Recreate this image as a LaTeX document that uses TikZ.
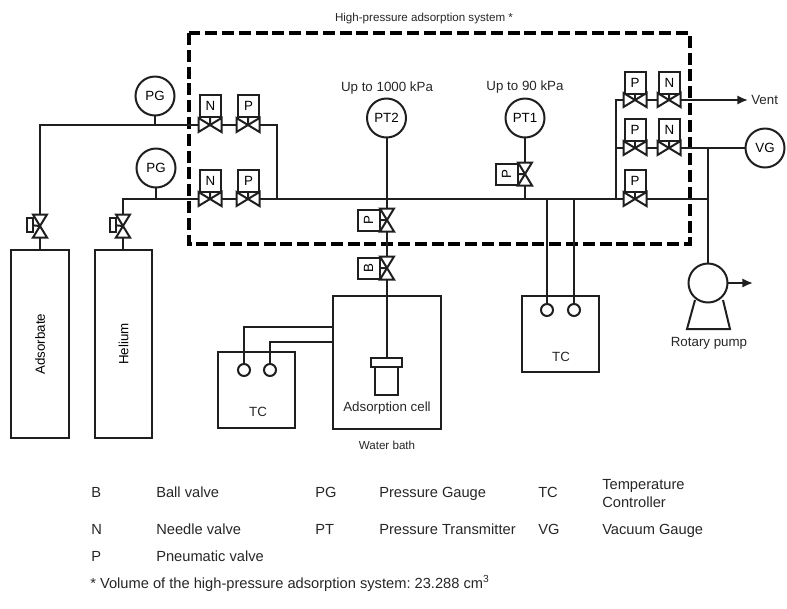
\documentclass[tikz,border=0pt]{standalone}
\usepackage{fontspec}
\setmainfont{Liberation Sans}
\usetikzlibrary{calc,arrows.meta}
\frenchspacing
\tikzset{
  pipe/.style={line width=1.5pt,line join=miter,draw=black!88},
  gauge/.style={circle,draw=black!88,line width=1.5pt,minimum size=29.25pt,inner sep=0pt,outer sep=0pt,font=\fontsize{10}{12}\selectfont},
  tag/.style={rectangle,draw=black!88,line width=1.5pt,fill=white,minimum width=15.75pt,minimum height=16.5pt,inner sep=0pt,outer sep=0pt,font=\fontsize{10}{12}\selectfont},
  grip/.style={tag,minimum width=4.5pt,minimum height=10.5pt},
  vessel/.style={rectangle,draw=black!88,line width=1.5pt,inner sep=0pt,outer sep=0pt,font=\fontsize{10}{12}\selectfont},
  port/.style={circle,draw=black!88,line width=1.5pt,fill=white,minimum size=9pt,inner sep=0pt,outer sep=0pt},
  lab/.style={inner sep=0pt,font=\fontsize{10}{12}\selectfont,text=black!85},
  smalllab/.style={lab,font=\fontsize{8.7}{10}\selectfont},
  leg/.style={lab,anchor=base west,font=\fontsize{11}{12}\selectfont},
  valve/.style={draw=black!88,line width=1.5pt,fill=white,line join=miter},
  tip/.style={-{Latex[length=8pt,width=7pt]}},
}
\newcommand{\hvalve}[3]{\coordinate (#1) at (#2,#3);}
\newcommand{\drawh}[1]{\draw[valve] (#1) ++(-11.5,-7) -- ++(23,14) -- ++(0,-14) -- ++(-23,14) -- cycle;}
\newcommand{\drawv}[1]{\draw[valve] (#1) ++(-7,-11.5) -- ++(14,0) -- ++(-14,23) -- ++(14,0) -- cycle;}
\begin{document}
\begin{tikzpicture}[x=0.75pt,y=-0.75pt]
\useasboundingbox (0,0) rectangle (787,608);
% system boundary
\draw[line width=3pt,dash pattern=on 9pt off 3.6pt,draw=black] (188.5,33) rectangle (689.5,243.5);
\node[smalllab] (title) at (424,18) {High-pressure adsorption system *};
% gauges
\node[gauge] (pgA) at (155,96) {PG};
\node[gauge] (pgB) at (156,168) {PG};
\node[gauge] (pt2) at (386.5,118) {PT2};
\node[gauge] (pt1) at (525,118) {PT1};
\node[gauge] (vg) at (765,148) {VG};
\node[gauge] (pump) at (708,283) {};
\node[lab] (lab2) at (387,88) {Up to 1000 kPa};
\node[lab] (lab1) at (525,87) {Up to 90 kPa};
% valve positions
\hvalve{nA}{210}{125}\hvalve{pA}{248}{125}
\hvalve{nB}{210}{199}\hvalve{pB}{248}{199}
\hvalve{pC}{635}{100}\hvalve{nC}{669}{100}
\hvalve{pD}{635}{148}\hvalve{nD}{669}{148}
\hvalve{pE}{635}{199}
\hvalve{vP2}{387}{220}\hvalve{vB}{387}{268}\hvalve{vP1}{525}{174}
\hvalve{vAd}{40}{226}\hvalve{vHe}{123}{226}
% tags
\node[tag] (tnA) at (210.5,106) {N};
\node[tag] (tpA) at (248.5,106) {P};
\node[tag] (tnB) at (210.5,180.5) {N};
\node[tag] (tpB) at (248.5,180.5) {P};
\node[tag] (tpC) at (635,82.5) {P};
\node[tag] (tnC) at (669.5,82.5) {N};
\node[tag] (tpD) at (635,130) {P};
\node[tag] (tnD) at (669.5,130) {N};
\node[tag] (tpE) at (635,181) {P};
\node[tag,rotate=90] (tP2) at (368.5,220.5) {P};
\node[tag,rotate=90] (tB) at (368.5,268.5) {B};
\node[tag,rotate=90] (tP1) at (506.5,174.5) {P};
\node[grip] (hAd) at (29.5,225) {};
\node[grip] (hHe) at (112.5,225) {};
% vessels
\node[vessel,rotate=90,minimum width=141pt,minimum height=43.5pt] (ads) at (40,344) {Adsorbate};
\node[vessel,rotate=90,minimum width=141pt,minimum height=43pt] (hel) at (123.5,344) {Helium};
\node[vessel,minimum width=81pt,minimum height=99.75pt] (bath) at (387,362.5) {};
\node[vessel,minimum width=57.75pt,minimum height=57pt] (tcL) at (256.5,390) {};
\node[vessel,minimum width=57.75pt,minimum height=57pt] (tcR) at (560.5,334) {};
\node[lab] (tcLt) at (258,412) {TC};
\node[lab] (tcRt) at (561,357) {TC};
\node[port] (cL1) at (244,370) {};
\node[port] (cL2) at (270,370) {};
\node[port] (cR1) at (547,310) {};
\node[port] (cR2) at (574,310) {};
\node[vessel,minimum width=23.25pt,minimum height=6.75pt] (cap) at (386.5,362.5) {};
\node[vessel,minimum width=17.25pt,minimum height=21pt] (cell) at (386.5,381) {};
\node[lab] (cellt) at (387,408) {Adsorption cell};
\node[smalllab] (batht) at (387,445) {Water bath};
\node[lab] (pumpt) at (709,343) {Rotary pump};
% junctions
\coordinate (jAl) at (40,125);
\coordinate (jBl) at (123,199);
\coordinate (jU) at (277,125);
\coordinate (jL) at (277,199);
\coordinate (jRt) at (616,100);
\coordinate (jRm) at (616,148);
\coordinate (jRb) at (616,199);
\coordinate (jPm) at (708,148);
\coordinate (jPb) at (708,199);
\coordinate (vent) at (748,100);
\coordinate (ventpump) at (753,283);
% pipes
\draw[pipe] (vAd) -- (jAl) -- (jU) -- (jL);
\draw[pipe] (vHe) -- (jBl) -- (jPb);
\draw[pipe] (vAd) -- (ads.east -| vAd);
\draw[pipe] (vHe) -- (hel.east -| vHe);
\draw[pipe] (pgA) -- (pgA |- jAl);
\draw[pipe] (pgB) -- (pgB |- jBl);
\draw[pipe] (pt2) -- (cap.north);
\draw[pipe] (pt1) -- (pt1 |- jBl);
\draw[pipe] (jRb) -- (jRt) -- (nC);
\draw[pipe,tip] (nC) -- (vent);
\draw[pipe] (jRm) -- (vg);
\draw[pipe] (jPm) -- (pump);
\draw[pipe] (jPb) -- (jPm);
\draw[pipe,tip] (pump) -- (ventpump);
\draw[pipe] (cR1 |- jBl) -- (cR1);
\draw[pipe] (cR2 |- jBl) -- (cR2);
\draw[pipe] (cL1) -- (244,327) -- (bath.west |- 0,327);
\draw[pipe] (cL2) -- (270,342) -- (bath.west |- 0,342);
\draw[pipe] (695,300) -- (687,329) -- (730,329) -- (723,300);
% stems
\foreach \t/\v in {hAd/vAd,hHe/vHe,tP2/vP2,tB/vB,tP1/vP1,tnA/nA,tpA/pA,tnB/nB,tpB/pB,tpC/pC,tnC/nC,tpD/pD,tnD/nD,tpE/pE}
  \draw[pipe] (\t) -- (\v);
% valve bodies
\foreach \v in {nA,pA,nB,pB,pC,nC,pD,nD,pE} {\drawh{\v}}
\foreach \v in {vP2,vB,vP1,vAd,vHe} {\drawv{\v}}
% vent label
\node[lab,anchor=west] (ventt) at (751,100) {Vent};
% legend
\node[leg] (l1) at (91,497) {B};
\node[leg] (l2) at (156,497) {Ball valve};
\node[leg] (l3) at (315,497) {PG};
\node[leg] (l4) at (379,497) {Pressure Gauge};
\node[leg] (l5) at (538,497) {TC};
\node[leg] (l6) at (602,489) {Temperature};
\node[leg] (l6b) at (602,507) {Controller};
\node[leg] (l7) at (91,534) {N};
\node[leg] (l8) at (156,534) {Needle valve};
\node[leg] (l9) at (315,534) {PT};
\node[leg] (l10) at (379,534) {Pressure Transmitter};
\node[leg] (l11) at (538,534) {VG};
\node[leg] (l12) at (602,534) {Vacuum Gauge};
\node[leg] (l13) at (91,561) {P};
\node[leg] (l14) at (156,561) {Pneumatic valve};
\node[leg] (l15) at (90,588) {* Volume of the high-pressure adsorption system: 23.288 cm\textsuperscript{3}};
\end{tikzpicture}
\end{document}
